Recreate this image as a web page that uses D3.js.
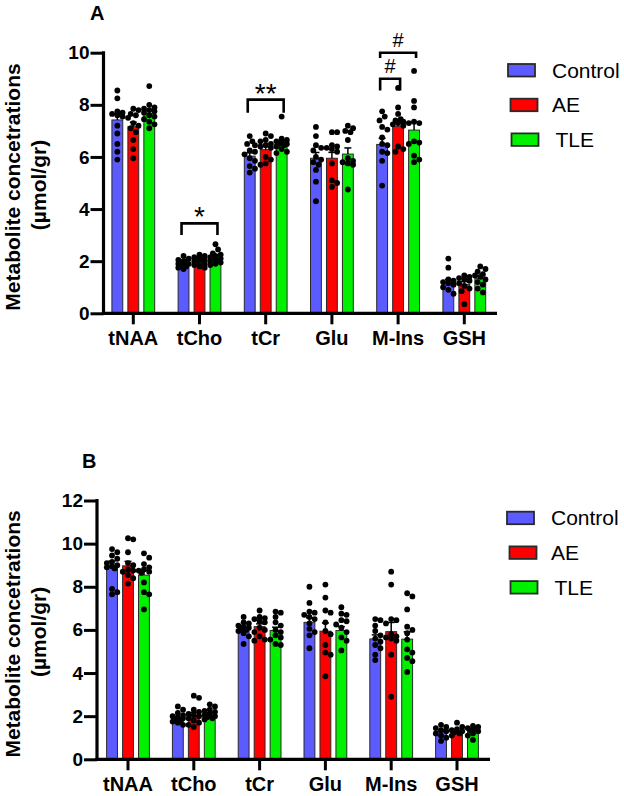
<!DOCTYPE html>
<html>
<head>
<meta charset="utf-8">
<script src="https://cdn.jsdelivr.net/npm/d3@7"></script>
<style>
  body { margin: 0; background: #fff; }
  text { font-family: "Liberation Sans", Arial, sans-serif; }
</style>
</head>
<body>
<div id="chart"></div>
<script>
const categories = ['tNAA', 'tCho', 'tCr', 'Glu', 'M-Ins', 'GSH'];
const groups = ['Control', 'AE', 'TLE'];
const colors = ['#5b5bff', '#ff0000', '#00f000'];

// panel A: bar means per category
const meanA_control = [7.42, 1.94, 6.03, 5.95, 6.48, 1.17];
const meanA_ae      = [7.16, 2.00, 6.28, 5.95, 7.18, 1.11];
const meanA_tle     = [7.67, 2.13, 6.52, 6.11, 7.03, 1.33];

// panel A: individual points per category
const dotsA_control = [
  [8.55, 8.25, 7.75, 7.7, 7.65, 7.6, 7.55, 7.2, 6.9, 6.5, 6.2, 5.9],
  [2.2, 2.1, 2.05, 2.0, 2.0, 1.95, 1.9, 1.9, 1.85, 1.8, 1.75, 1.7],
  [6.8, 6.6, 6.5, 6.45, 6.25, 6.2, 6.1, 5.95, 5.85, 5.65, 5.55, 5.4],
  [7.15, 6.8, 6.45, 6.35, 6.25, 6.0, 5.9, 5.8, 5.7, 5.5, 5.05, 4.3],
  [7.75, 7.55, 7.4, 7.15, 7.05, 6.75, 6.5, 6.45, 6.2, 6.15, 5.85, 4.9],
  [2.1, 1.75, 1.3, 1.25, 1.2, 1.15, 1.1, 1.0, 0.9, 0.75]
];
const dotsA_ae = [
  [7.85, 7.8, 7.65, 7.6, 7.5, 7.3, 7.2, 7.1, 6.95, 6.65, 6.3, 5.95],
  [2.25, 2.2, 2.15, 2.1, 2.05, 2.0, 2.0, 1.95, 1.9, 1.85, 1.8, 1.75],
  [6.9, 6.8, 6.65, 6.6, 6.5, 6.45, 6.4, 6.35, 6.0, 5.9, 5.75, 5.7],
  [6.95, 6.95, 6.45, 6.4, 6.35, 6.3, 6.2, 5.75, 5.1, 5.0, 4.85],
  [8.65, 7.9, 7.65, 7.45, 7.4, 7.35, 7.3, 7.25, 7.2, 6.4, 6.3, 6.2],
  [1.45, 1.4, 1.35, 1.3, 1.25, 1.15, 1.05, 0.95, 0.85, 0.35]
];
const dotsA_tle = [
  [8.72, 8.0, 7.9, 7.85, 7.8, 7.75, 7.7, 7.6, 7.55, 7.45, 7.35, 7.25, 7.1],
  [2.65, 2.45, 2.3, 2.25, 2.2, 2.15, 2.1, 2.05, 2.0, 1.95, 1.9, 1.85],
  [7.55, 6.7, 6.65, 6.6, 6.55, 6.5, 6.5, 6.45, 6.4, 6.3, 6.2, 6.15],
  [7.2, 7.1, 7.0, 6.95, 6.65, 5.95, 5.85, 5.8, 5.75, 5.7, 4.75],
  [9.3, 8.15, 7.9, 7.35, 7.3, 7.3, 6.6, 6.55, 6.5, 6.05, 5.9, 5.8],
  [1.8, 1.7, 1.6, 1.5, 1.45, 1.4, 1.3, 1.2, 1.1, 0.95, 0.8]
];

// panel B
const meanB_control = [9.00, 1.85, 6.00, 6.35, 5.58, 1.28];
const meanB_ae      = [8.97, 2.04, 6.15, 5.94, 5.92, 1.24];
const meanB_tle     = [8.54, 2.09, 5.97, 5.97, 5.57, 1.35];

const dotsB_control = [
  [9.75, 9.6, 9.45, 9.3, 9.15, 9.1, 9.0, 8.95, 8.9, 8.85, 7.9, 7.75, 7.65],
  [2.45, 2.3, 2.15, 2.05, 2.0, 1.95, 1.9, 1.85, 1.8, 1.75, 1.7, 1.6],
  [6.6, 6.35, 6.3, 6.2, 6.15, 6.1, 6.05, 6.0, 5.95, 5.85, 5.7, 5.35],
  [8.0, 7.25, 6.85, 6.8, 6.7, 6.6, 6.5, 6.3, 6.05, 5.9, 5.75, 5.15],
  [6.5, 6.45, 6.2, 5.95, 5.75, 5.6, 5.45, 5.3, 5.15, 4.85, 4.6],
  [1.6, 1.5, 1.45, 1.35, 1.3, 1.2, 1.1, 1.0, 0.85]
];
const dotsB_ae = [
  [10.25, 10.2, 9.6, 9.1, 9.0, 8.8, 8.75, 8.7, 8.55, 8.4, 8.15],
  [2.95, 2.85, 2.3, 2.2, 2.1, 2.05, 2.0, 1.9, 1.8, 1.7, 1.6, 1.5],
  [6.9, 6.6, 6.55, 6.5, 6.4, 6.35, 6.1, 6.0, 5.9, 5.7, 5.55, 5.5],
  [8.1, 7.5, 6.9, 6.8, 6.35, 5.95, 5.8, 5.3, 4.95, 4.85, 3.85],
  [8.7, 8.1, 6.5, 6.45, 6.3, 5.8, 5.7, 5.65, 5.6, 5.5, 4.85, 2.9],
  [1.7, 1.5, 1.4, 1.35, 1.3, 1.25, 1.2, 1.1]
];
const dotsB_tle = [
  [9.55, 9.35, 9.05, 8.9, 8.8, 8.75, 8.7, 8.65, 8.2, 7.75, 7.65, 6.95],
  [2.55, 2.45, 2.3, 2.25, 2.2, 2.1, 2.05, 2.0, 1.95, 1.9, 1.85],
  [6.85, 6.8, 6.6, 6.35, 6.2, 6.0, 5.9, 5.75, 5.65, 5.55, 5.35, 5.3],
  [7.05, 6.75, 6.7, 6.45, 6.4, 6.25, 6.1, 5.9, 5.65, 5.5, 5.05],
  [7.7, 7.55, 6.95, 6.15, 6.0, 5.85, 5.55, 5.1, 4.95, 4.7, 4.55, 4.05],
  [1.55, 1.5, 1.45, 1.4, 1.35, 1.3, 1.2, 1.1, 0.9]
];

const ticksA = [0, 2, 4, 6, 8, 10];
const ticksB = [0, 2, 4, 6, 8, 10, 12];

// significance brackets, panel A only
const sigCat   = ['tCho', 'tCr', 'M-Ins', 'M-Ins'];
const sigFrom  = [0, 0, 0, 0];
const sigTo    = [2, 2, 1, 2];
const sigTop   = [3.45, 8.2, 9.0, 10.0];
const sigLeg   = [3.0, 7.7, 8.55, 9.8];
const sigLabel = ['*', '**', '#', '#'];

const W = 624, H = 796;
const svg = d3.select('#chart').append('svg').attr('width', W).attr('height', H);

function drawPanel(o) {
  const y = d3.scaleLinear().domain([0, o.ymax]).range([o.y0, o.y1]);
  const x = d3.scaleBand().domain(categories).range([o.xl, o.xr]);
  const sub = d3.scaleBand().domain(groups).range([-26.5, 26.5]).padding(0.32);
  const g = svg.append('g');
  const r = 2.9;

  groups.forEach((grp, gi) => {
    const cx = c => x(c) + x.bandwidth() / 2 + sub(grp) + sub.bandwidth() / 2;
    const means = o.means[gi], dots = o.dots[gi];

    g.selectAll(null).data(categories).enter().append('rect')
      .attr('x', c => cx(c) - sub.bandwidth() / 2)
      .attr('width', sub.bandwidth())
      .attr('y', (c, i) => y(means[i]))
      .attr('height', (c, i) => y(0) - y(means[i]))
      .attr('fill', colors[gi]).attr('stroke', '#2a2a2a').attr('stroke-width', 1);

    // mean + SEM, upper whisker only
    categories.forEach((c, i) => {
      const v = dots[i];
      const sem = d3.deviation(v) / Math.sqrt(v.length);
      const top = y(means[i] + sem);
      g.append('line').attr('x1', cx(c)).attr('x2', cx(c))
        .attr('y1', y(means[i])).attr('y2', top).attr('stroke', '#000').attr('stroke-width', 1.5);
      g.append('line').attr('x1', cx(c) - 3.5).attr('x2', cx(c) + 3.5)
        .attr('y1', top).attr('y2', top).attr('stroke', '#000').attr('stroke-width', 1.5);

      // simple swarm so overlapping points spread sideways
      const placed = [];
      v.forEach(val => {
        const py = y(val);
        let best = 0, bestD = -1;
        for (let k = 0; k <= 8; k++) {
          for (const s of (k === 0 ? [1] : [1, -1])) {
            const off = s * k * r * 0.9;
            if (Math.abs(off) > 7) continue;
            const d = placed.length ? d3.min(placed, p => Math.hypot(p[0] - off, p[1] - py)) : 99;
            if (d >= 2 * r * 0.9) { if (bestD < 99) { best = off; bestD = 99; } }
            else if (bestD < 99 && d > bestD) { best = off; bestD = d; }
          }
          if (bestD === 99) break;
        }
        placed.push([best, py]);
      });
      g.selectAll(null).data(placed).enter().append('circle')
        .attr('cx', p => cx(c) + p[0]).attr('cy', p => p[1]).attr('r', r).attr('fill', '#000');
    });
  });

  // y axis
  const ya = g.append('g').attr('transform', `translate(${o.ax},0)`)
    .call(d3.axisLeft(y).tickValues(o.ticks).tickSize(13).tickPadding(1));
  ya.select('.domain').remove();
  ya.selectAll('.tick line').attr('stroke', '#000').attr('stroke-width', 3);
  ya.selectAll('.tick text').attr('font-size', 19).attr('font-weight', 'bold').attr('fill', '#000')
    .style('font-family', '"Liberation Sans", Arial, sans-serif');
  g.append('line').attr('x1', o.ax).attr('x2', o.ax).attr('y1', y(0) + 1.5).attr('y2', y(o.ymax) - 1.5)
    .attr('stroke', '#000').attr('stroke-width', 3.2);

  // x axis
  const xa = g.append('g').attr('transform', `translate(0,${y(0)})`)
    .call(d3.axisBottom(x).tickSize(11).tickPadding(7));
  xa.select('.domain').remove();
  xa.selectAll('.tick line').attr('stroke', '#000').attr('stroke-width', 3);
  xa.selectAll('.tick text').attr('font-size', 20).attr('font-weight', 'bold').attr('fill', '#000')
    .style('font-family', '"Liberation Sans", Arial, sans-serif');
  g.append('line').attr('x1', o.ax - 1.6).attr('x2', o.xend).attr('y1', y(0)).attr('y2', y(0))
    .attr('stroke', '#000').attr('stroke-width', 3.2);

  // y title
  const cy = (o.y0 + o.y1) / 2 + 4;
  g.append('text').attr('transform', `translate(20,${cy}) rotate(-90)`)
    .attr('text-anchor', 'middle').attr('font-size', 21).attr('font-weight', 'bold')
    .text('Metabolite concetrations');
  g.append('text').attr('transform', `translate(46,${cy - 2}) rotate(-90)`)
    .attr('text-anchor', 'middle').attr('font-size', 21).attr('font-weight', 'bold')
    .text('(µmol/gr)');

  // panel letter
  g.append('text').attr('x', o.lx).attr('y', o.ly).attr('font-size', 20).attr('font-weight', 'bold').text(o.letter);

  // legend
  groups.forEach((grp, gi) => {
    const ly = o.legY + gi * 34.7;
    const shift = gi === 0 ? 0 : (gi === 1 ? 2.5 : 3.5);
    g.append('rect').attr('x', o.legX + shift).attr('y', ly).attr('width', 27).attr('height', 12.5)
      .attr('fill', colors[gi]).attr('stroke', '#2a2a2a').attr('stroke-width', 1.8);
    g.append('text').attr('x', o.legX + 44 + (gi === 2 ? 3.5 : 0)).attr('y', ly + 13.5)
      .attr('font-size', 21).text(grp);
  });

  if (o.sig) {
    const barX = (c, gi) => x(c) + x.bandwidth() / 2 + sub(groups[gi]) + sub.bandwidth() / 2;
    sigCat.forEach((c, i) => {
      const x1 = barX(c, sigFrom[i]) - 2, x2 = barX(c, sigTo[i]) + 2;
      g.append('path')
        .attr('d', `M${x1},${y(sigLeg[i])}V${y(sigTop[i])}H${x2}V${y(sigLeg[i])}`)
        .attr('fill', 'none').attr('stroke', '#000').attr('stroke-width', 2.6);
      const isHash = sigLabel[i] === '#';
      g.append('text').attr('x', (x1 + x2) / 2).attr('y', y(sigTop[i]) + (isHash ? -6 : 3))
        .attr('text-anchor', 'middle').attr('font-size', isHash ? 20 : 28).text(sigLabel[i]);
    });
  }
}

drawPanel({
  letter: 'A', lx: 90, ly: 20, ymax: 10, ticks: ticksA, y0: 313.3, y1: 52.7,
  ax: 103.5, xl: 100.2, xr: 497.4, xend: 497,
  means: [meanA_control, meanA_ae, meanA_tle], dots: [dotsA_control, dotsA_ae, dotsA_tle],
  legX: 508, legY: 64, sig: true
});
drawPanel({
  letter: 'B', lx: 82, ly: 468, ymax: 12, ticks: ticksB, y0: 759.3, y1: 500.5,
  ax: 97, xl: 95.1, xr: 489.9, xend: 490,
  means: [meanB_control, meanB_ae, meanB_tle], dots: [dotsB_control, dotsB_ae, dotsB_tle],
  legX: 507, legY: 511.7, sig: false
});
</script>
</body>
</html>
